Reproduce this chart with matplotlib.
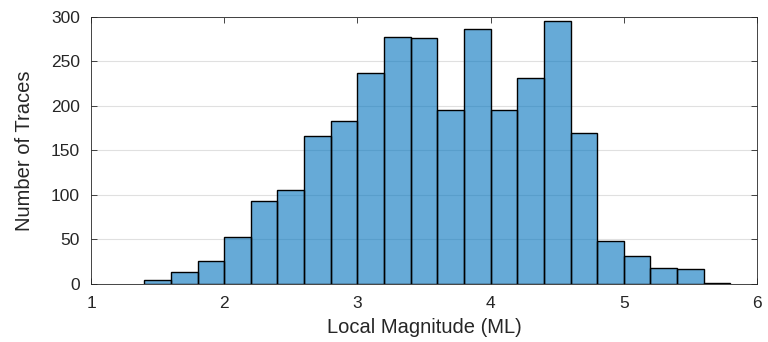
import numpy as np
import matplotlib
matplotlib.use('Agg')
import matplotlib.pyplot as plt

plt.rcParams['font.family'] = ['Liberation Sans', 'DejaVu Sans']

# histogram bins (local magnitude) and counts
bin_edges = [1.4, 1.6, 1.8, 2.0, 2.2, 2.4, 2.6, 2.8, 3.0, 3.2, 3.4, 3.6,
             3.8, 4.0, 4.2, 4.4, 4.6, 4.8, 5.0, 5.2, 5.4, 5.6, 5.8]
counts = [4, 14, 26, 53, 93, 106, 166, 183, 237, 277, 276, 195,
          287, 196, 232, 296, 170, 48, 31, 18, 17, 1]

fig = plt.figure(figsize=(7.68, 3.42), dpi=100)
ax = fig.add_axes([0.1185, 0.1696, 0.8672, 0.7807])

left = np.array(bin_edges[:-1])
width = np.diff(bin_edges)
ax.bar(left, counts, width=width, align='edge', color=(0.0, 0.447, 0.741),
       alpha=0.6, edgecolor='none', zorder=2)
ax.bar(left, counts, width=width, align='edge', fill=False,
       edgecolor='black', linewidth=1.0, zorder=3)

ax.set_xlim(1, 6)
ax.set_ylim(0, 300)
ax.set_xticks([1, 2, 3, 4, 5, 6])
ax.set_yticks([0, 50, 100, 150, 200, 250, 300])
ax.yaxis.grid(True, color='#e0e0e0', linewidth=0.8, zorder=0)
ax.set_axisbelow(True)
ax.tick_params(direction='in', length=4, width=0.6, labelsize=12.5,
               colors='#262626', top=True, right=True)
ax.tick_params(axis='x', pad=9)
ax.tick_params(axis='y', pad=8)
for s in ax.spines.values():
    s.set_color('#262626')
    s.set_linewidth(0.6)

ax.set_xlabel('Local Magnitude (ML)', fontsize=14.5, color='#262626', labelpad=5)
ax.set_ylabel('Number of Traces', fontsize=14.5, color='#262626', labelpad=12)

fig.savefig('out.png', dpi=100)
